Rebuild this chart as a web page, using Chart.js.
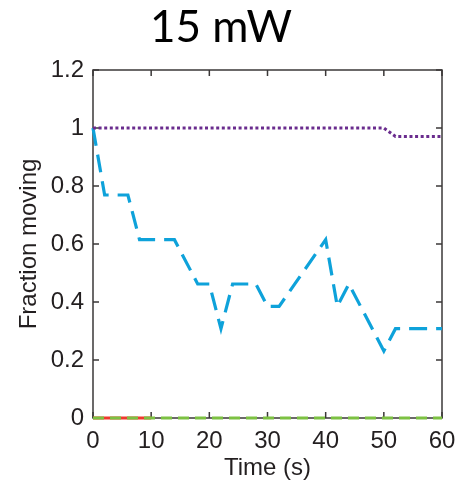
<!DOCTYPE html>
<html>
  <head>
    <title>15 mW</title>
    <script src="https://cdn.jsdelivr.net/npm/chart.js@4.4.0/dist/chart.umd.min.js"></script>
    <style>
      body {
        margin: 0;
        background: #fff;
      }

      .container {
        width: 472px;
        height: 480px;
        position: relative;
      }
    </style>
  </head>
  <body>
    <div class="container">
      <canvas id="fraction-chart"></canvas>
    </div>

    <script>
      // fraction of particles still moving
      const blueTime = [0, 2, 6, 8, 14, 18, 20, 22, 24, 28, 30, 32, 40, 42, 44, 50, 52, 60];
      const blueFrac = [1, 0.769, 0.769, 0.615, 0.615, 0.462, 0.462, 0.308, 0.462, 0.462,
        0.385, 0.385, 0.615, 0.385, 0.462, 0.231, 0.308, 0.308];

      const purpleTime = [0, 50, 52, 60];
      const purpleFrac = [1, 1, 0.971, 0.971];

      const greenTime = [0, 60];
      const greenFrac = [0, 0];

      const redTime = [0, 10];
      const redFrac = [0, 0];

      const xTicks = [0, 10, 20, 30, 40, 50, 60];
      const yTicks = [0, 0.2, 0.4, 0.6, 0.8, 1, 1.2];

      function toPoints(xs, ys) {
        return xs.map((t, i) => ({ x: t, y: ys[i] }));
      }

      // box around the plot with inward tick marks on all four sides
      const boxTicks = {
        id: "boxTicks",
        beforeDatasetsDraw(chart) {
          const { ctx, chartArea: a, scales } = chart;
          const len = 6;
          ctx.save();
          ctx.strokeStyle = "#3b3838";
          ctx.lineWidth = 1.5;
          ctx.strokeRect(a.left, a.top, a.right - a.left, a.bottom - a.top);
          ctx.beginPath();
          xTicks.forEach((v) => {
            const px = scales.x.getPixelForValue(v);
            ctx.moveTo(px, a.bottom);
            ctx.lineTo(px, a.bottom - len);
            ctx.moveTo(px, a.top);
            ctx.lineTo(px, a.top + len);
          });
          yTicks.forEach((v) => {
            const py = scales.y.getPixelForValue(v);
            ctx.moveTo(a.left, py);
            ctx.lineTo(a.left + len, py);
            ctx.moveTo(a.right, py);
            ctx.lineTo(a.right - len, py);
          });
          ctx.stroke();
          ctx.restore();
        },
      };

      const tickFont = { family: "'Liberation Sans', Arial, sans-serif", size: 24 };

      new Chart("fraction-chart", {
        type: "line",
        data: {
          datasets: [
            {
              data: toPoints(purpleTime, purpleFrac),
              borderColor: "#6a2c8e",
              borderWidth: 3,
              borderDash: [3, 2.6],
              pointRadius: 0,
              fill: false,
              clip: false,
              order: 0,
            },
            {
              data: toPoints(blueTime, blueFrac),
              borderColor: "#0ea2da",
              borderWidth: 3.2,
              borderDash: [18, 9],
              pointRadius: 0,
              fill: false,
              clip: false,
              order: 1,
            },
            {
              data: toPoints(greenTime, greenFrac),
              borderColor: "#7cc142",
              borderWidth: 3.2,
              borderDash: [11, 6],
              pointRadius: 0,
              fill: false,
              clip: false,
              order: 2,
            },
            {
              data: toPoints(redTime, redFrac),
              borderColor: "#ee3a2f",
              borderWidth: 3.2,
              pointRadius: 0,
              fill: false,
              clip: false,
              order: 3,
            },
          ],
        },
        plugins: [boxTicks],
        options: {
          responsive: true,
          maintainAspectRatio: false,
          animation: false,
          layout: { padding: { left: 0, right: 30, top: 0, bottom: 0 } },
          plugins: {
            legend: { display: false },
            tooltip: { enabled: false },
            title: {
              display: true,
              text: "15 mW",
              color: "#000",
              font: { family: "Lato, 'Open Sans', sans-serif", size: 44, weight: "normal", lineHeight: 1 },
              padding: { top: 6, bottom: 20 },
            },
          },
          scales: {
            x: {
              type: "linear",
              min: 0,
              max: 60,
              afterFit: (scale) => {
                scale.height = 62;
              },
              afterBuildTicks: (scale) => {
                scale.ticks = xTicks.map((v) => ({ value: v }));
              },
              grid: { display: false, drawTicks: false },
              border: { display: false },
              ticks: { color: "#231f20", font: tickFont, padding: 9, maxRotation: 0 },
              title: {
                display: true,
                text: "Time (s)",
                color: "#231f20",
                font: tickFont,
                padding: { top: 0, bottom: -3 },
              },
            },
            y: {
              min: 0,
              max: 1.2,
              afterFit: (scale) => {
                scale.width = 93;
              },
              afterBuildTicks: (scale) => {
                scale.ticks = yTicks.map((v) => ({ value: v }));
              },
              grid: { display: false, drawTicks: false },
              border: { display: false },
              ticks: {
                color: "#231f20",
                font: tickFont,
                padding: 9,
                callback: (v) => String(Number(v.toFixed(1))),
              },
              title: {
                display: true,
                text: "Fraction moving",
                color: "#231f20",
                font: tickFont,
                padding: { top: 15, bottom: 0 },
              },
            },
          },
        },
      });
    </script>
  </body>
</html>
